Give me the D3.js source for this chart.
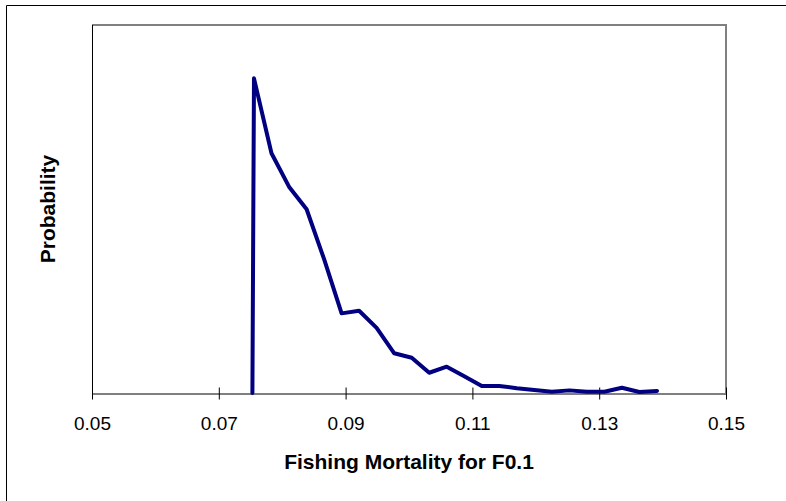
<!DOCTYPE html>
<html>
<head>
<meta charset="utf-8">
<script src="https://cdn.jsdelivr.net/npm/d3@7"></script>
<style>
  html, body { margin: 0; padding: 0; background: #fff; }
  svg { display: block; }
  text { font-family: "Liberation Sans", Arial, sans-serif; fill: #000; }
</style>
</head>
<body>
<script>
// Data
const fValues = [0.0753, 0.07555, 0.07831, 0.08107, 0.08385, 0.08661, 0.08937, 0.09213, 0.09489,
  0.09767, 0.10043, 0.10319, 0.10595, 0.10871, 0.11148, 0.11424, 0.11700, 0.11976,
  0.12252, 0.12530, 0.12806, 0.13082, 0.13358, 0.13634, 0.13912];
const probValues = [0, 0.1197, 0.0912, 0.0785, 0.0699, 0.0509, 0.0303, 0.0313, 0.0248,
  0.0151, 0.0134, 0.0077, 0.0100, 0.0064, 0.0027, 0.0027, 0.0018, 0.0011,
  0.0005, 0.0010, 0.0005, 0.0005, 0.0020, 0.0004, 0.0008];
const xTicks = [0.05, 0.07, 0.09, 0.11, 0.13, 0.15];
const xTitle = "Fishing Mortality for F0.1";
const yTitle = "Probability";

const W = 786, H = 501;
const plot = { left: 92, right: 726, top: 25, bottom: 393 };

const svg = d3.select("body").append("svg").attr("width", W).attr("height", H);

// outer chart border (left and top visible)
svg.append("path")
  .attr("d", `M6.5,${H} L6.5,5.5 L${W},5.5`)
  .attr("fill", "none").attr("stroke", "#000").attr("stroke-width", 1);

const x = d3.scaleLinear().domain([0.05, 0.15]).range([plot.left, plot.right]);
const y = d3.scaleLinear().domain([0, 0.14]).range([plot.bottom, plot.top]);

// plot area frame (top & right gray)
svg.append("path")
  .attr("d", `M${plot.left},${plot.top} L${plot.right},${plot.top} L${plot.right},${plot.bottom}`)
  .attr("fill", "none").attr("stroke", "#808080").attr("stroke-width", 2);

// y axis line
svg.append("line")
  .attr("x1", plot.left + 0.5).attr("x2", plot.left + 0.5)
  .attr("y1", plot.top).attr("y2", plot.bottom)
  .attr("stroke", "#000").attr("stroke-width", 1);

// x axis
const xAxis = d3.axisBottom(x).tickValues(xTicks).tickFormat(d3.format(".2f"))
  .tickSizeInner(6).tickSizeOuter(0).tickPadding(0);
const gx = svg.append("g").attr("transform", `translate(0,${plot.bottom + 0.5})`).call(xAxis);
gx.select(".domain").attr("stroke", "#000").attr("stroke-width", 1);
gx.selectAll(".tick line").attr("stroke", "#000").attr("y1", -6).attr("y2", 6);
gx.selectAll(".tick text")
  .attr("font-family", "Liberation Sans, Arial, sans-serif")
  .attr("font-size", 19).attr("fill", "#000")
  .attr("dy", null).attr("y", 36.5);

// line
const data = fValues.map((f, i) => ({ f, p: probValues[i] }));
svg.append("path")
  .datum(data)
  .attr("fill", "none")
  .attr("stroke", "#000080")
  .attr("stroke-width", 4)
  .attr("stroke-linejoin", "round")
  .attr("stroke-linecap", "round")
  .attr("d", d3.line().x(d => x(d.f)).y(d => y(d.p)));

// titles
svg.append("text")
  .attr("x", (plot.left + plot.right) / 2).attr("y", 469)
  .attr("text-anchor", "middle").attr("font-size", 21).attr("font-weight", "bold")
  .text(xTitle);

svg.append("text")
  .attr("transform", `translate(55,${(plot.top + plot.bottom) / 2}) rotate(-90)`)
  .attr("text-anchor", "middle").attr("font-size", 21).attr("font-weight", "bold")
  .text(yTitle);
</script>
</body>
</html>
